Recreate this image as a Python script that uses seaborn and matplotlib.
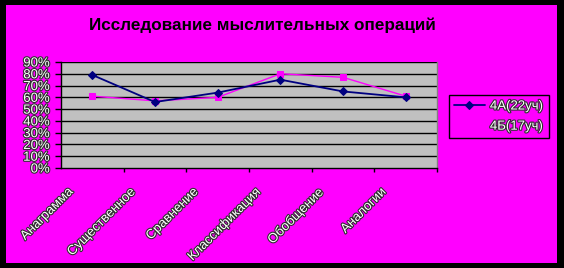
import matplotlib
matplotlib.use("Agg")
import matplotlib.pyplot as plt
import matplotlib.patheffects as pe
from matplotlib.patches import Rectangle
from matplotlib.transforms import ScaledTranslation
import seaborn as sns
import pandas as pd

# Data
categories = ["Анаграмма", "Существенное", "Сравнение", "Классификация", "Обобщение", "Аналогии"]
series_a_name = "4А(22уч)"
series_b_name = "4Б(17уч)"
series_a = [0.79, 0.56, 0.64, 0.75, 0.65, 0.60]
series_b = [0.61, 0.57, 0.60, 0.80, 0.77, 0.61]
y_ticks = [0.0, 0.1, 0.2, 0.3, 0.4, 0.5, 0.6, 0.7, 0.8, 0.9]
title = "Исследование мыслительных операций"

MAGENTA = "#FF00FF"
NAVY = "#000080"
GRAY = "#C0C0C0"

sns.set_theme(style="white")
plt.rcParams["font.family"] = ["Liberation Sans", "DejaVu Sans"]

W, H = 564, 268
fig = plt.figure(figsize=(W / 100, H / 100), dpi=100, facecolor="black")
# magenta card inside the black frame
card = Rectangle((6 / W, 5 / H), (557 - 6) / W, (263 - 5) / H,
                 transform=fig.transFigure, facecolor=MAGENTA,
                 edgecolor="none", zorder=-10)
fig.add_artist(card)

ax = fig.add_axes([61 / W, 1 - 168 / H, (437 - 61) / W, (168 - 62) / H])
ax.set_facecolor(GRAY)

df = pd.DataFrame({
    "pos": list(range(len(categories))) * 2,
    "val": series_a + series_b,
    "group": [series_a_name] * len(series_a) + [series_b_name] * len(series_b),
})

sns.lineplot(data=df[df.group == series_a_name], x="pos", y="val", ax=ax,
             color=NAVY, lw=1.3, marker="D", markersize=4.5,
             markeredgecolor=NAVY, label=series_a_name, zorder=4)
sns.lineplot(data=df[df.group == series_b_name], x="pos", y="val", ax=ax,
             color=MAGENTA, lw=1.0, marker="s", markersize=5,
             markeredgecolor=MAGENTA, label=series_b_name, zorder=3)

ax.set_xlim(-0.5, len(categories) - 0.5)
ax.set_ylim(0, 0.9)
ax.set_xlabel("")
ax.set_ylabel("")

# horizontal gridlines
for yv in y_ticks[1:]:
    ax.axhline(yv, color="black", lw=1.0, zorder=1)

ax.set_yticks(y_ticks)
ax.set_yticklabels([f"{int(round(v * 100))}%" for v in y_ticks])
ax.set_xticks([i + 0.5 for i in range(len(categories))], minor=False)
ax.set_xticklabels([])
ax.set_xticks(range(len(categories)), minor=True)
ax.set_xticklabels(categories, minor=True)

ax.tick_params(axis="y", which="major", direction="out", length=4, width=1,
               color="black", left=True, pad=4, labelsize=9.5)
ax.tick_params(axis="x", which="major", direction="out", length=3, width=1,
               color="black", bottom=True)
ax.tick_params(axis="x", which="minor", length=0, pad=13, labelsize=9.5)

outline = [pe.withStroke(linewidth=1.6, foreground="#303030")]
for lbl in ax.get_yticklabels():
    lbl.set_color("white")
    lbl.set_path_effects(outline)
offset = ScaledTranslation(-17 / 100, 0, fig.dpi_scale_trans)
for lbl in ax.get_xticklabels(minor=True):
    lbl.set_color("white")
    lbl.set_path_effects(outline)
    lbl.set_rotation(45)
    lbl.set_ha("right")
    lbl.set_va("top")
    lbl.set_rotation_mode("default")
    lbl.set_transform(lbl.get_transform() + offset)

for side in ["left", "bottom"]:
    ax.spines[side].set_color("black")
    ax.spines[side].set_linewidth(1.0)
ax.spines["top"].set_visible(False)
ax.spines["right"].set_color("#808080")
ax.spines["right"].set_linewidth(1.0)

# legend
handles, labels = ax.get_legend_handles_labels()
ax.get_legend().remove()
leg = fig.legend(handles, labels, loc="upper left",
                 bbox_to_anchor=(449 / W, 1 - 95 / H), frameon=True,
                 fancybox=False, facecolor=MAGENTA, edgecolor="black",
                 framealpha=1, fontsize=9.5, handlelength=2.3,
                 borderpad=0.4, borderaxespad=0, labelspacing=0.6,
                 handletextpad=0.4)
leg.get_frame().set_linewidth(1.0)
for t in leg.get_texts():
    t.set_color("white")
    t.set_path_effects(outline)

fig.text(262 / W, 1 - 25 / H, title, ha="center", va="center",
         fontsize=12.3, fontweight="bold", color="black")

fig.savefig("out.png", dpi=100, facecolor=fig.get_facecolor())
